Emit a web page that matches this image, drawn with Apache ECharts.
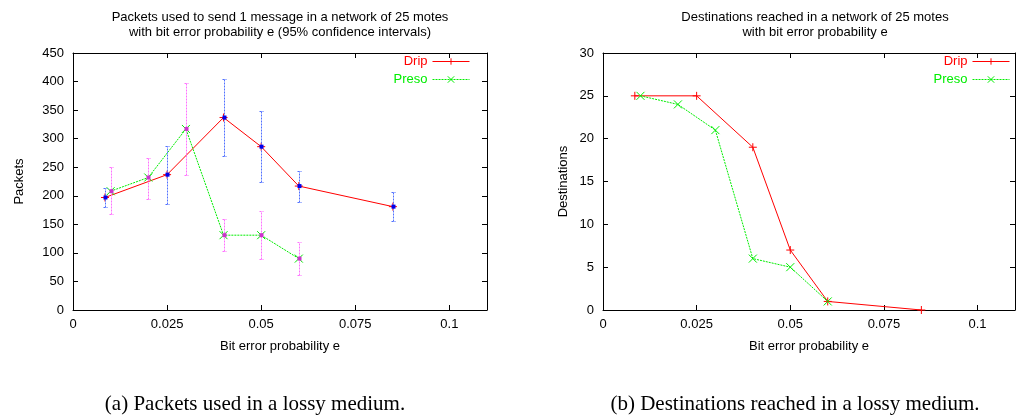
<!DOCTYPE html>
<html>
<head>
<meta charset="utf-8">
<script src="https://cdn.jsdelivr.net/npm/echarts@6/dist/echarts.min.js"></script>
<style>
  html, body { margin: 0; padding: 0; background: #fff; }
  #main { width: 1018px; height: 417px; }
</style>
</head>
<body>
<div id="main"></div>
<script>
// bit error probability (x) for each run
var eDrip = [0.0085, 0.025, 0.04, 0.05, 0.06, 0.085];
var ePreso = [0.01, 0.02, 0.03, 0.04, 0.05, 0.06];

// (a) packets used, with 95% confidence intervals
var dripPackets = [197, 237, 337, 286, 217, 181];
var dripLow = [181, 186, 270, 224, 189, 156];
var dripHigh = [213, 287, 404, 348, 244, 207];
var presoPackets = [208, 232, 317, 131, 131, 90];
var presoLow = [168, 195, 236, 103, 89, 61];
var presoHigh = [250, 267, 397, 159, 173, 119];

// (b) destinations reached
var dripDest = [25, 25, 19, 7, 1, 0];
var presoDest = [25, 24, 21, 6, 5, 1];

var xTicks = [0, 0.025, 0.05, 0.075, 0.1];

var RED = '#ff0000';
var GREEN = '#00ee00';
var FONT = 'Liberation Sans';
var PLUS = 'path://M0,4L8,4M4,0L4,8';
var CROSS = 'path://M0,0L8,8M8,0L0,8';

function pairs(xs, ys) {
    return xs.map(function (x, i) { return [x, ys[i]]; });
}

function xLabel(v) {
    var s = parseFloat(v.toFixed(3));
    return xTicks.indexOf(s) >= 0 ? String(s) : '';
}

// gnuplot style box: axes on all four sides, ticks pointing in
function xAxes(grid, name) {
    var base = {
        gridIndex: grid, type: 'value', min: 0, max: 0.11, interval: 0.025,
        axisLine: { onZero: false, lineStyle: { color: '#000', width: 1 } },
        axisTick: { inside: true, length: 5, lineStyle: { color: '#000' } },
        splitLine: { show: false }
    };
    return [
        Object.assign({}, base, {
            position: 'bottom',
            name: name, nameLocation: 'middle', nameGap: 30,
            nameTextStyle: { fontFamily: FONT, fontSize: 13, color: '#000' },
            axisLabel: { margin: 8, fontFamily: FONT, fontSize: 13, color: '#000', formatter: xLabel }
        }),
        Object.assign({}, base, { position: 'top', axisLabel: { show: false } })
    ];
}

function yAxes(grid, max, step, name, gap) {
    var base = {
        gridIndex: grid, type: 'value', min: 0, max: max, interval: step,
        axisLine: { onZero: false, lineStyle: { color: '#000', width: 1 } },
        axisTick: { inside: true, length: 5, lineStyle: { color: '#000' } },
        splitLine: { show: false }
    };
    return [
        Object.assign({}, base, {
            position: 'left',
            name: name, nameLocation: 'middle', nameGap: gap, nameRotate: 90,
            nameTextStyle: { fontFamily: FONT, fontSize: 13, color: '#000' },
            axisLabel: { margin: 9, fontFamily: FONT, fontSize: 13, color: '#000' }
        }),
        Object.assign({}, base, { position: 'right', axisLabel: { show: false } })
    ];
}

// yerrorbars: dotted bar, small caps, filled square on the mean
function errorBars(barColor, dotColor) {
    return function (params, api) {
        var x = api.value(0);
        var lo = api.coord([x, api.value(1)]);
        var hi = api.coord([x, api.value(2)]);
        var mid = api.coord([x, api.value(3)]);
        var px = Math.round(mid[0]) + 0.5;
        var yl = Math.round(lo[1]) + 0.5, yh = Math.round(hi[1]) + 0.5;
        var ls = { stroke: barColor, lineWidth: 1, lineDash: [2, 1], fill: null };
        return {
            type: 'group',
            children: [
                { type: 'line', shape: { x1: px, y1: yl, x2: px, y2: yh }, style: ls },
                { type: 'line', shape: { x1: px - 2, y1: yl, x2: px + 2, y2: yl }, style: ls },
                { type: 'line', shape: { x1: px - 2, y1: yh, x2: px + 2, y2: yh }, style: ls },
                { type: 'rect', shape: { x: px - 2, y: mid[1] - 2, width: 4, height: 4 }, style: { fill: dotColor } }
            ]
        };
    };
}

function lineSeries(name, grid, data, color, dotted, symbol) {
    return {
        name: name, type: 'line', xAxisIndex: grid * 2, yAxisIndex: grid * 2,
        data: data, symbol: symbol, symbolSize: 8, showSymbol: true,
        itemStyle: { color: color, borderColor: color, borderWidth: 1 },
        lineStyle: { color: color, width: 1, type: dotted ? [2, 1] : 'solid' },
        emphasis: { disabled: true }, z: 2
    };
}

function legendItem(name, color, dotted) {
    return {
        name: name,
        textStyle: { color: color },
        itemStyle: { color: color, borderColor: color, borderWidth: 1 },
        lineStyle: { color: color, width: 1, type: dotted ? [2, 1] : 'solid' }
    };
}

function legendAt(right) {
    return {
        right: right, top: 55, orient: 'vertical', align: 'right', padding: 0,
        itemWidth: 37, itemHeight: 8, itemGap: 5, selectedMode: false,
        textStyle: { fontFamily: FONT, fontSize: 13 },
        data: [legendItem('Drip', RED, false), legendItem('Preso', GREEN, true)]
    };
}

var chart = echarts.init(document.getElementById('main'));

chart.setOption({
    animation: false,
    backgroundColor: '#fff',
    title: [
        {
            text: 'Packets used to send 1 message in a network of 25 motes\nwith bit error probability e (95% confidence intervals)',
            left: 280, top: 10, textAlign: 'center', padding: 0,
            textStyle: { fontFamily: FONT, fontSize: 13, fontWeight: 'normal', color: '#000', lineHeight: 15 }
        },
        {
            text: 'Destinations reached in a network of 25 motes\nwith bit error probability e',
            left: 815, top: 10, textAlign: 'center', padding: 0,
            textStyle: { fontFamily: FONT, fontSize: 13, fontWeight: 'normal', color: '#000', lineHeight: 15 }
        }
    ],
    legend: [legendAt(548), legendAt(8)],
    grid: [
        { left: 73, top: 53, width: 414, height: 257 },
        { left: 603, top: 53, width: 425, height: 257 }
    ],
    xAxis: xAxes(0, 'Bit error probability e').concat(xAxes(1, 'Bit error probability e')),
    yAxis: yAxes(0, 450, 50, 'Packets', 47).concat(yAxes(1, 30, 5, 'Destinations', 33)),
    series: [
        lineSeries('Drip', 0, pairs(eDrip, dripPackets), RED, false, PLUS),
        lineSeries('Preso', 0, pairs(ePreso, presoPackets), GREEN, true, CROSS),
        {
            type: 'custom', xAxisIndex: 0, yAxisIndex: 0, z: 3,
            renderItem: errorBars('#5070ff', '#0000ee'),
            data: eDrip.map(function (e, i) { return [e, dripLow[i], dripHigh[i], dripPackets[i]]; })
        },
        {
            type: 'custom', xAxisIndex: 0, yAxisIndex: 0, z: 3,
            renderItem: errorBars('#ff70ff', '#cc33cc'),
            data: ePreso.map(function (e, i) { return [e, presoLow[i], presoHigh[i], presoPackets[i]]; })
        },
        lineSeries('Drip', 1, pairs(eDrip, dripDest), RED, false, PLUS),
        lineSeries('Preso', 1, pairs(ePreso, presoDest), GREEN, true, CROSS)
    ],
    graphic: [
        {
            type: 'text', style: {
                x: 255, y: 404, text: '(a) Packets used in a lossy medium.',
                font: '21px "Liberation Serif"', fill: '#000', align: 'center', verticalAlign: 'middle'
            }
        },
        {
            type: 'text', style: {
                x: 795, y: 404, text: '(b) Destinations reached in a lossy medium.',
                font: '21px "Liberation Serif"', fill: '#000', align: 'center', verticalAlign: 'middle'
            }
        }
    ]
});
</script>
</body>
</html>
